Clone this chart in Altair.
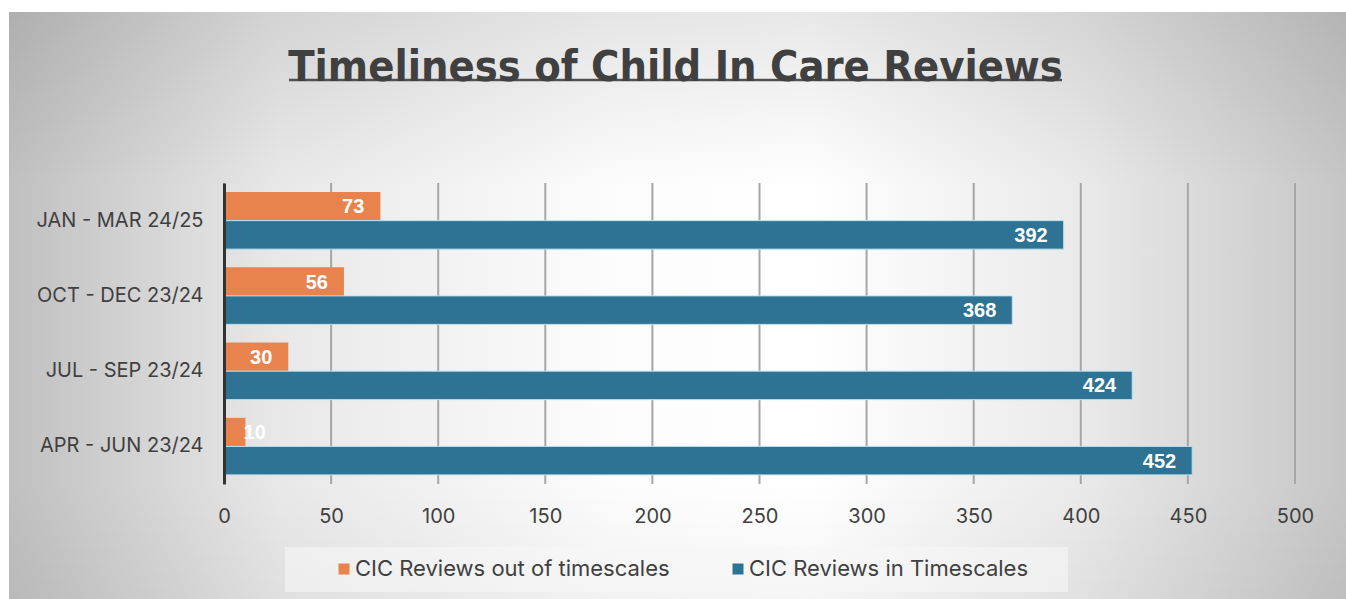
import altair as alt
import pandas as pd

# ---- data ----
categories = ["JAN - MAR 24/25", "OCT - DEC 23/24", "JUL - SEP 23/24", "APR - JUN 23/24"]
series_names = ["CIC Reviews out of timescales", "CIC Reviews in Timescales"]
out_of_timescales = [73, 56, 30, 10]
in_timescales = [392, 368, 424, 452]
x_ticks = [0, 50, 100, 150, 200, 250, 300, 350, 400, 450, 500]

rows = []
for c, a, b in zip(categories, out_of_timescales, in_timescales):
    rows.append({"period": c, "series": series_names[0], "value": a})
    rows.append({"period": c, "series": series_names[1], "value": b})
df = pd.DataFrame(rows)
one = pd.DataFrame({"k": [0]})
ticks_df = pd.DataFrame({"t": x_ticks})

ORANGE = "#E8834D"
BLUE = "#2E7393"
TXT = "#404040"
W, H = 1071, 301

xscale = alt.Scale(domain=[0, 500], nice=False, zero=True)
y_enc = alt.Y(
    "period:N",
    sort=categories,
    scale=alt.Scale(paddingInner=0.2425, paddingOuter=0.12125),
    axis=alt.Axis(
        title=None, ticks=False, grid=False, domain=True, domainColor="#333333",
        domainWidth=3, labelFontSize=20, labelColor=TXT, labelFont="Inter",
        labelPadding=21, labelLimit=400, zindex=2,
    ),
)
yoff = alt.YOffset("series:N", sort=series_names, scale=alt.Scale(domain=series_names))

# background panel (decoration)
bg = alt.Chart(one).mark_rect(
    fill=alt.LinearGradient(
        gradient="linear", x1=0, x2=1, y1=0, y2=0,
        stops=[
            alt.GradientStop(color="#c0c0c0", offset=0),
            alt.GradientStop(color="#e8e8e8", offset=0.2),
            alt.GradientStop(color="#fcfcfc", offset=0.45),
            alt.GradientStop(color="#ffffff", offset=0.6),
            alt.GradientStop(color="#eaeaea", offset=0.8),
            alt.GradientStop(color="#c6c6c6", offset=1),
        ],
    )
).encode(x=alt.value(-215), x2=alt.value(1122), y=alt.value(-171), y2=alt.value(416))

bg2 = alt.Chart(one).mark_rect(
    fill=alt.LinearGradient(
        gradient="linear", x1=0, x2=0, y1=0, y2=1,
        stops=[
            alt.GradientStop(color="rgba(0,0,0,0.09)", offset=0),
            alt.GradientStop(color="rgba(0,0,0,0.0)", offset=0.3),
            alt.GradientStop(color="rgba(0,0,0,0.0)", offset=0.8),
            alt.GradientStop(color="rgba(0,0,0,0.04)", offset=1),
        ],
    )
).encode(x=alt.value(-215), x2=alt.value(1122), y=alt.value(-171), y2=alt.value(416))

legend_box = alt.Chart(one).mark_rect(fill="#f6f6f6", opacity=0.6).encode(
    x=alt.value(61), x2=alt.value(844), y=alt.value(364), y2=alt.value(409)
)

underline = alt.Chart(one).mark_rule(color="#505050", strokeWidth=2.5).encode(
    x=alt.value(65), x2=alt.value(838), y=alt.value(-103)
)

grid = alt.Chart(ticks_df).mark_rule(color="#a6a6a6", strokeWidth=2).encode(
    x=alt.X("t:Q", scale=xscale), y=alt.value(0), y2=alt.value(H)
)

bars = alt.Chart(df).mark_bar(strokeWidth=1).encode(
    x=alt.X(
        "value:Q", scale=xscale,
        axis=alt.Axis(
            title=None, values=x_ticks, grid=False, labelFlush=False,
            domain=False, ticks=False, labelFontSize=20, labelColor=TXT,
            labelFont="Inter", labelPadding=22, zindex=2,
        ),
    ),
    y=y_enc,
    yOffset=yoff,
    color=alt.Color(
        "series:N", sort=series_names,
        scale=alt.Scale(domain=series_names, range=[ORANGE, BLUE]),
        legend=alt.Legend(
            title=None, orient="none", legendX=109, legendY=375, direction="horizontal",
            symbolType="square", symbolSize=121, symbolStrokeWidth=0,
            labelFontSize=22, labelColor=TXT, labelFont="Inter", labelOffset=0,
            columnPadding=57, labelLimit=500, padding=0, zindex=2,
        ),
    ),
    stroke=alt.Stroke(
        "series:N", scale=alt.Scale(domain=series_names, range=["rgba(0,0,0,0)", "#bfe2ef"]),
        legend=None,
    ),
)

labels = alt.Chart(df).transform_calculate(
    pos="max(datum.value, 27)"
).mark_text(
    align="right", baseline="middle", dx=-16, dy=1, font="Liberation Sans",
    fontWeight="bold", fontSize=20, color="white",
).encode(
    x=alt.X("pos:Q", scale=xscale),
    y=alt.Y("period:N", sort=categories),
    yOffset=yoff,
    text="value:Q",
)

chart = alt.layer(bg, bg2, legend_box, underline, grid, bars, labels).properties(
    width=W,
    height=H,
    autosize=alt.AutoSizeParams(type="none"),
    padding={"left": 224, "top": 183, "right": 51, "bottom": 115},
    title=alt.TitleParams(
        "Timeliness of Child In Care Reviews",
        font="DejaVu Sans Condensed", fontSize=43,
        fontWeight="bold", color=TXT, anchor="middle", dx=-84, offset=-112,
        baseline="alphabetic", zindex=2,
    ),
).configure(background="white").configure_view(stroke=None)

chart.save("out.html", embed_options={"renderer": "svg", "actions": False})
